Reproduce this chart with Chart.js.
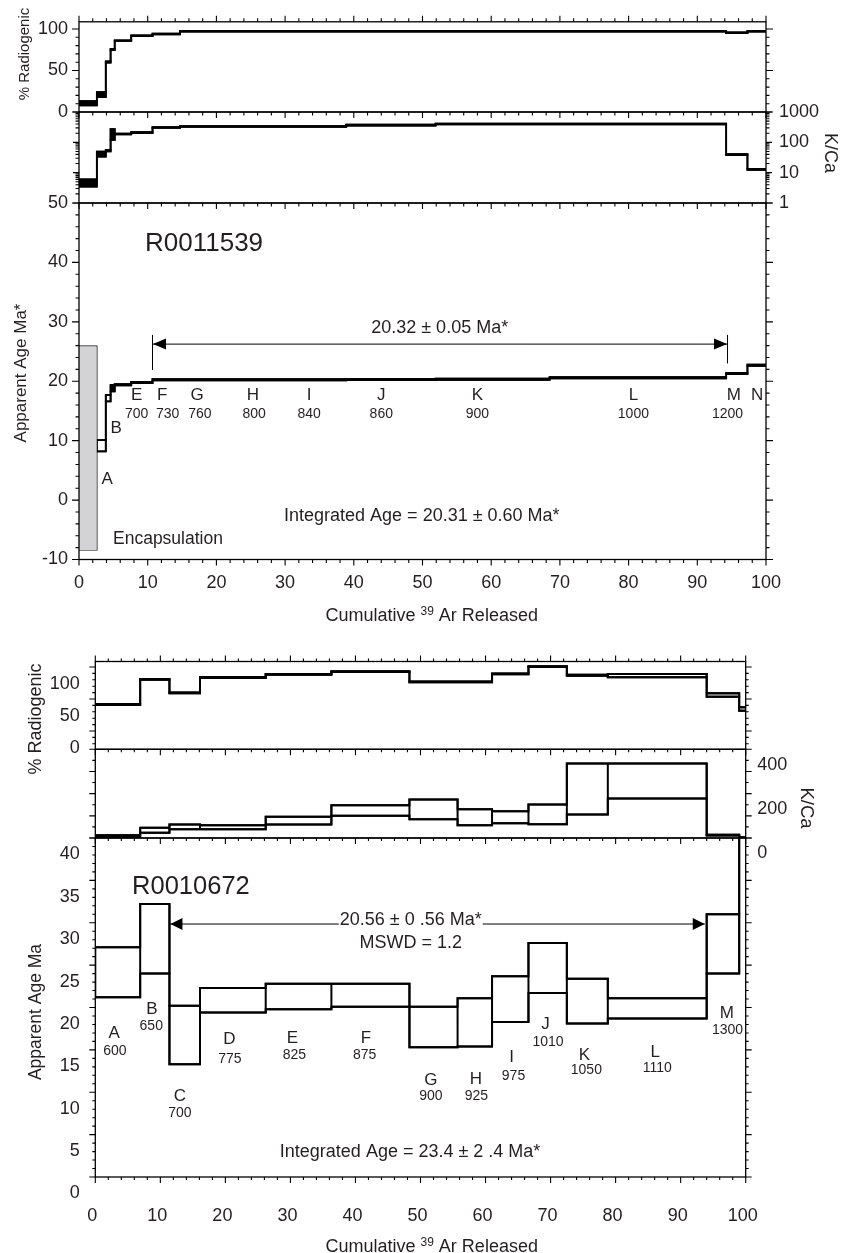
<!DOCTYPE html>
<html>
<head>
<meta charset="utf-8">
<title>Ar-Ar age spectra R0011539 / R0010672</title>
<script src="https://cdn.jsdelivr.net/npm/chart.js@4.4.1/dist/chart.umd.min.js"></script>
<style>
html, body { margin:0; padding:0; background:#fff; }
#fig { position:relative; width:848px; height:1253px; overflow:hidden; background:#fff; }
#fig canvas { position:absolute; left:0; top:0; }
</style>
</head>
<body>
<div id="fig">
<canvas id="topRad" width="848" height="1253"></canvas>
<canvas id="topKca" width="848" height="1253"></canvas>
<canvas id="topAge" width="848" height="1253"></canvas>
<canvas id="botRad" width="848" height="1253"></canvas>
<canvas id="botKca" width="848" height="1253"></canvas>
<canvas id="botAge" width="848" height="1253"></canvas>
</div>
<script>
// ======================= DATA =======================
// Upper spectrum, sample R0011539 (step 0 = encapsulation gas)
const topStepNames = ['Encapsulation','A','B','C','D','E','F','G','H','I','J','K','L','M','N'];
const topCumAr = [0, 2.6, 3.9, 4.6, 5.2, 7.6, 10.7, 14.7, 19.8, 30.9, 38.9, 51.9, 68.5, 94.2, 97.3, 100];
const topRadLo = [8, 18, 59.5, 74.5, 85.6, 91.6, 93.6, 96.9, 96.9, 96.9, 96.9, 96.9, 96.9, 95.0, 96.9];
const topRadHi = [13, 24, 61.0, 76.0, 86.4, 92.4, 94.4, 97.7, 97.7, 97.7, 97.7, 97.7, 97.7, 95.8, 97.7];
const topKcaLo = [3.5, 34, 50, 120, 182, 203, 298, 322, 322, 322, 358, 392, 392, 38, 12.3];
const topKcaHi = [6.0, 49, 56, 270, 194, 216, 316, 342, 342, 342, 380, 416, 416, 41, 13.2];
const topAgeLo = [-8.4, 8.2, 16.6, 18.3, 19.3, 19.7, 20.15, 20.15, 20.17, 20.17, 20.2, 20.22, 20.5, 21.2, 22.6];
const topAgeHi = [25.9, 10.1, 17.7, 19.4, 19.5, 19.9, 20.35, 20.35, 20.37, 20.37, 20.4, 20.42, 20.7, 21.4, 22.8];
const topLabelSteps = ['A','B','E','F','G','H','I','J','K','L','M','N'];
const topLabelTemps = ['','','700','730','760','800','840','860','900','1000','1200',''];

// Lower spectrum, sample R0010672
const botStepNames = ['A','B','C','D','E','F','G','H','I','J','K','L','M','N'];
const botCumAr = [0, 6.9, 11.4, 16.1, 26.2, 36.3, 48.3, 55.7, 61.0, 66.6, 72.5, 78.8, 94.0, 99.0, 100];
const botRadLo = [40.5, 80, 59, 83, 88, 92, 76, 76, 88.5, 100, 86.5, 84, 53.6, 31.7];
const botRadHi = [42.0, 81.2, 60.2, 84.2, 89.2, 93.2, 77.2, 77.2, 89.7, 101.2, 87.7, 89, 58.9, 37.0];
const botKcaLo = [0, 24, 40, 40, 61, 100, 85, 58, 66, 62, 106, 178, 11, 0];
const botKcaHi = [12, 46, 61, 58, 96, 148, 174, 130, 121, 151, 336, 336, 15, 3];
const botAgeLo = [21.2, 24.0, 13.3, 19.4, 19.8, 20.1, 15.3, 15.4, 18.3, 21.7, 18.1, 18.7, 24.0, 48];
const botAgeHi = [27.1, 32.2, 20.2, 22.3, 22.8, 22.8, 20.1, 21.1, 23.7, 27.6, 23.4, 21.1, 31.0, 60];
const botLabelSteps = ['A','B','C','D','E','F','G','H','I','J','K','L','M'];
const botLabelTemps = ['600','650','700','775','825','875','900','925','975','1010','1050','1110','1300'];

// Tick labels
const cumTicks = [0, 10, 20, 30, 40, 50, 60, 70, 80, 90, 100];
const topRadTicks = [0, 50, 100];
const topKcaTicks = [1, 10, 100, 1000];
const topAgeTicks = [-10, 0, 10, 20, 30, 40, 50];
const botRadTicks = [0, 50, 100];
const botKcaTicks = [0, 200, 400];
const botAgeTicks = [0, 5, 10, 15, 20, 25, 30, 35, 40];

// ======================= LAYOUT (positions, not data) =======================
const FONT = "'Liberation Sans', Arial, Helvetica, sans-serif";
const TXT = '#231f20';
const W_AX = 60;
const topLabelPos = [[4.1,3.45],[5.4,12.1],[8.4,17.6],[12.1,17.6],[17.2,17.6],[25.3,17.6],[33.5,17.6],[44,17.6],[58,17.6],[80.7,17.6],[95.3,17.6],[98.7,17.6]];
const topTempPos  = [null,null,[8.4,14.5],[12.9,14.5],[17.6,14.5],[25.5,14.5],[33.5,14.5],[44,14.5],[58,14.5],[80.7,14.5],[94.4,14.5],null];
const botLabelPos = [[2.9,16.95],[8.7,19.8],[13.0,9.56],[20.6,16.2],[30.3,16.4],[41.6,16.4],[51.6,11.45],[58.5,11.5],[64.0,14.1],[69.2,18.05],[75.2,14.4],[86.1,14.7],[97.1,19.3]];
const botTempPos  = [[3.0,14.87],[8.6,17.8],[13.0,7.5],[20.7,13.9],[30.6,14.4],[41.4,14.4],[51.6,9.5],[58.6,9.5],[64.3,11.9],[69.6,15.97],[75.5,12.6],[86.4,12.8],[97.2,17.3]];

Chart.defaults.font.family = FONT;
Chart.defaults.color = TXT;

// ======================= HELPERS =======================
function range(min, max, step) {
  const out = [];
  for (let k = Math.ceil(min / step - 1e-9); k * step <= max + 1e-9; k++) out.push(Math.round(k * step * 1e6) / 1e6);
  return out;
}
function logRange(min, max, majorOnly) {
  const out = [];
  for (let d = Math.floor(Math.log10(min)); Math.pow(10, d) <= max; d++) {
    for (let m = 1; m < 10; m++) {
      const v = m * Math.pow(10, d);
      if (v >= min - 1e-9 && v <= max + 1e-9 && (!majorOnly || m === 1)) out.push(v);
    }
  }
  return out;
}
function stairPts(cum, vals, start) {
  const pts = [];
  for (let i = start; i < vals.length; i++) pts.push({x: cum[i], y: vals[i]});
  pts.push({x: cum[vals.length], y: vals[vals.length - 1]});
  return pts;
}
// lower and upper staircases, optionally filled between
function stairs(cum, lo, hi, start, lw, segFill) {
  const base = {type: 'line', stepped: 'before', pointRadius: 0, borderColor: '#000', borderWidth: lw,
    borderJoinStyle: 'miter', borderCapStyle: 'butt'};
  const upper = Object.assign({}, base, {data: stairPts(cum, hi, start), fill: segFill ? '-1' : false, backgroundColor: '#000'});
  if (segFill) upper.segment = {backgroundColor: c => segFill(c.p0DataIndex + start)};
  return [Object.assign({}, base, {data: stairPts(cum, lo, start), fill: false}), upper];
}
// closed rectangle for every heating step
function boxOutline(cum, lo, hi, start, end, lw) {
  const pts = [];
  for (let i = start; i < end; i++) {
    const x0 = cum[i], x1 = cum[i + 1];
    pts.push({x: x0, y: lo[i]}, {x: x0, y: hi[i]}, {x: x1, y: hi[i]}, {x: x1, y: lo[i]}, {x: x0, y: lo[i]}, {x: x1, y: null});
  }
  return {type: 'line', data: pts, borderColor: '#000', borderWidth: lw, pointRadius: 0, fill: false,
    spanGaps: false, borderJoinStyle: 'miter', borderCapStyle: 'square'};
}
function spectrum(cum, lo, hi, start, lw, segFill) {
  return stairs(cum, lo, hi, start, lw, segFill).concat([boxOutline(cum, lo, hi, start, lo.length, lw)]);
}
function put(ctx, str, x, y, size, opt) {
  opt = opt || {};
  ctx.save();
  ctx.font = size + 'px ' + FONT;
  ctx.fillStyle = TXT;
  ctx.textAlign = opt.align || 'center';
  ctx.textBaseline = 'middle';
  ctx.translate(x, y);
  if (opt.rot) ctx.rotate(opt.rot * Math.PI / 180);
  ctx.fillText(str, 0, 0);
  ctx.restore();
}
function xTitle(ctx, cx, baseline) {
  const a = 'Cumulative ', s = '39', b = ' Ar Released';
  ctx.save();
  ctx.font = '18px ' + FONT; const wa = ctx.measureText(a).width, wb = ctx.measureText(b).width;
  ctx.font = '12px ' + FONT; const ws = ctx.measureText(s).width;
  let x = cx - (wa + ws + wb) / 2;
  ctx.fillStyle = TXT; ctx.textAlign = 'left'; ctx.textBaseline = 'alphabetic';
  ctx.font = '18px ' + FONT; ctx.fillText(a, x, baseline); x += wa;
  ctx.font = '12px ' + FONT; ctx.fillText(s, x, baseline - 5.4); x += ws;
  ctx.font = '18px ' + FONT; ctx.fillText(b, x, baseline);
  ctx.restore();
}
function tri(ctx, xTip, y, dir, L, h) {
  ctx.beginPath();
  ctx.moveTo(xTip, y);
  ctx.lineTo(xTip - dir * L, y - h);
  ctx.lineTo(xTip - dir * L, y + h);
  ctx.closePath();
  ctx.fill();
}

function makePlugin(spec) {
  return {
    id: 'panelDeco',
    afterDatasetsDraw(chart) {
      const ctx = chart.ctx, a = chart.chartArea;
      ctx.save();
      ctx.strokeStyle = '#000';
      ctx.lineWidth = 1.3;
      ctx.strokeRect(a.left, a.top, a.right - a.left, a.bottom - a.top);
      ctx.lineWidth = 1.1;
      for (const t of spec.tickMarks) {
        const sc = chart.scales[t.scale];
        ctx.beginPath();
        const draw = (v, len) => {
          const p = sc.getPixelForValue(v);
          if (t.side === 'top' || t.side === 'bottom') {
            const y0 = t.side === 'top' ? a.top : a.bottom;
            ctx.moveTo(p, y0); ctx.lineTo(p, y0 + t.dir * len);
          } else {
            const x0 = t.side === 'left' ? a.left : a.right;
            ctx.moveTo(x0, p); ctx.lineTo(x0 + t.dir * len, p);
          }
        };
        t.minor.forEach(v => draw(v, t.minorLen));
        t.major.forEach(v => draw(v, t.majorLen));
        ctx.stroke();
      }
      ctx.restore();
    },
    afterDraw(chart) {
      (spec.decor || []).forEach(fn => fn(chart.ctx, chart));
    }
  };
}

function makePanel(id, rect, spec) {
  const hasX = !!spec.xLabels;
  const yPos = spec.yPos;
  const padding = {
    left: rect.l - (yPos === 'left' ? W_AX : 0),
    right: 848 - rect.r - (yPos === 'right' ? W_AX : 0),
    top: rect.t,
    bottom: 1253 - rect.b - (hasX ? spec.xHeight : 0)
  };
  const scales = {
    x: {
      type: 'linear', min: 0, max: 100, bounds: 'data', position: 'bottom', display: hasX,
      grid: {display: false, drawTicks: false}, border: {display: false},
      ticks: {autoSkip: false, maxRotation: 0, minRotation: 0, padding: spec.xPad || 0,
        labelOffset: spec.xLabelOffset || 0, font: {size: 18}, color: TXT, callback: v => String(v)},
      afterBuildTicks: s => { if (hasX) s.ticks = spec.xLabels.map(v => ({value: v})); },
      afterFit: s => { if (hasX) s.height = spec.xHeight; }
    },
    y: {
      type: spec.yType || 'linear', min: spec.yMin, max: spec.yMax, bounds: 'data', position: yPos,
      grid: {display: false, drawTicks: false}, border: {display: false},
      ticks: {autoSkip: false, padding: spec.yPad, labelOffset: spec.yLabelOffset || 0,
        font: {size: 18}, color: TXT, callback: v => String(v)},
      afterBuildTicks: s => { s.ticks = spec.yLabels.map(v => ({value: v})); },
      afterFit: s => { s.width = W_AX; }
    }
  };
  return new Chart(document.getElementById(id), {
    type: 'line',
    data: {datasets: spec.datasets},
    options: {
      responsive: false, maintainAspectRatio: false, animation: false, devicePixelRatio: 1,
      events: [],
      layout: {padding},
      plugins: {legend: {display: false}, tooltip: {enabled: false}, title: {display: false}},
      scales
    },
    plugins: [makePlugin(spec)]
  });
}

// ======================= UPPER FIGURE =======================
const TX = {l: 79, r: 766};
const xMajor = range(0, 100, 10), xMinor = range(0, 100, 2);

makePanel('topRad', {l: TX.l, r: TX.r, t: 19.3, b: 112}, {
  yPos: 'left', yMin: 0, yMax: 108.7, yLabels: topRadTicks, yPad: 11,
  datasets: spectrum(topCumAr, topRadLo, topRadHi, 0, 1.8, () => undefined),
  tickMarks: [
    {scale: 'x', side: 'top', dir: -1, major: xMajor, minor: xMinor, majorLen: 6, minorLen: 3.5},
    {scale: 'y', side: 'left', dir: -1, major: topRadTicks, minor: range(0, 108, 10), majorLen: 7, minorLen: 3.5},
    {scale: 'y', side: 'right', dir: 1, major: topRadTicks, minor: range(0, 108, 10), majorLen: 7, minorLen: 3.5}
  ]
});

makePanel('topKca', {l: TX.l, r: TX.r, t: 112, b: 203}, {
  yPos: 'right', yType: 'logarithmic', yMin: 1, yMax: 1000, yLabels: topKcaTicks, yPad: 13,
  datasets: spectrum(topCumAr, topKcaLo, topKcaHi, 0, 1.8, () => undefined),
  tickMarks: [
    {scale: 'x', side: 'top', dir: 1, major: xMajor, minor: xMinor, majorLen: 6, minorLen: 3.5},
    {scale: 'y', side: 'left', dir: -1, major: logRange(1, 1000, true), minor: logRange(1, 1000), majorLen: 6, minorLen: 3.5},
    {scale: 'y', side: 'right', dir: 1, major: logRange(1, 1000, true), minor: logRange(1, 1000), majorLen: 6, minorLen: 3.5}
  ],
  decor: [ctx => put(ctx, 'K/Ca', 830, 153, 18, {rot: 90})]
});

const topAgeSets = [
  // encapsulation step (grey box with outline)
  {type: 'line', data: [{x: topCumAr[0], y: topAgeHi[0]}, {x: topCumAr[1], y: topAgeHi[0]}],
   borderColor: 'rgba(0,0,0,0)', borderWidth: 1, pointRadius: 0, fill: {value: topAgeLo[0]}, backgroundColor: '#d3d3d5'},
  boxOutline(topCumAr, topAgeLo, topAgeHi, 0, 1, 1.2)
].concat(spectrum(topCumAr, topAgeLo, topAgeHi, 1, 1.8, i => (i <= 2 ? 'rgba(0,0,0,0)' : undefined)));

makePanel('topAge', {l: TX.l, r: TX.r, t: 203, b: 559.5}, {
  yPos: 'left', yMin: -10, yMax: 50, yLabels: topAgeTicks, yPad: 11,
  xLabels: cumTicks, xHeight: 45, xPad: 12.7,
  datasets: topAgeSets,
  tickMarks: [
    {scale: 'x', side: 'top', dir: 1, major: xMajor, minor: xMinor, majorLen: 6, minorLen: 3.5},
    {scale: 'x', side: 'bottom', dir: 1, major: xMajor, minor: xMinor, majorLen: 6, minorLen: 3.5},
    {scale: 'y', side: 'left', dir: -1, major: range(-10, 50, 10), minor: range(-10, 50, 2), majorLen: 7, minorLen: 3.5},
    {scale: 'y', side: 'right', dir: 1, major: range(-10, 50, 10), minor: range(-10, 50, 2), majorLen: 7, minorLen: 3.5}
  ],
  decor: [(ctx, ch) => {
    const X = v => ch.scales.x.getPixelForValue(v), Y = v => ch.scales.y.getPixelForValue(v);
    put(ctx, 'R0011539', X(18.2), Y(43.1), 26);
    topLabelSteps.forEach((s, i) => put(ctx, s, X(topLabelPos[i][0]), Y(topLabelPos[i][1]), 17));
    topLabelTemps.forEach((s, i) => { if (s) put(ctx, s, X(topTempPos[i][0]), Y(topTempPos[i][1]), 14); });
    put(ctx, 'Integrated Age = 20.31 \u00B1 0.60 Ma*', X(49.9), Y(-2.6), 18);
    put(ctx, 'Encapsulation', X(12.95), Y(-6.5), 17.5);
    // plateau arrow
    ctx.save();
    ctx.strokeStyle = '#000'; ctx.fillStyle = '#000'; ctx.lineWidth = 1;
    const x1 = X(10.7), x2 = X(94.4), y = Y(26.25);
    ctx.beginPath();
    ctx.moveTo(x1, y); ctx.lineTo(x2, y);
    ctx.moveTo(x1, Y(27.8)); ctx.lineTo(x1, Y(21.9));
    ctx.moveTo(x2, Y(27.8)); ctx.lineTo(x2, Y(23.0));
    ctx.stroke();
    tri(ctx, x1 + 0.5, y, -1, 13, 5.5);
    tri(ctx, x2 - 0.5, y, 1, 13, 5.5);
    ctx.restore();
    put(ctx, '20.32 \u00B1 0.05 Ma*', X(52.5), Y(29.0), 18);
    // axis titles
    put(ctx, '% Radiogenic', 25, 54, 15, {rot: -90});
    put(ctx, 'Apparent Age Ma*', 21, 373, 17, {rot: -90});
    xTitle(ctx, 431.7, 620.5);
  }]
});

// ======================= LOWER FIGURE =======================
const BX = {l: 95.3, r: 745.7};

makePanel('botRad', {l: BX.l, r: BX.r, t: 661.5, b: 749.3}, {
  yPos: 'left', yMin: -28.6, yMax: 108.6, yLabels: botRadTicks, yPad: 15.5, yLabelOffset: 16.8,
  datasets: spectrum(botCumAr, botRadLo, botRadHi, 0, 2, i => (i >= 12 ? '#9b9b9b' : 'rgba(0,0,0,0)')),
  tickMarks: [
    {scale: 'x', side: 'top', dir: -1, major: xMajor, minor: xMinor, majorLen: 6, minorLen: 3},
    {scale: 'y', side: 'left', dir: -1, major: botRadTicks, minor: range(-28, 108, 10), majorLen: 6, minorLen: 3},
    {scale: 'y', side: 'right', dir: 1, major: botRadTicks, minor: range(-28, 108, 10), majorLen: 6, minorLen: 3}
  ]
});

makePanel('botKca', {l: BX.l, r: BX.r, t: 749.3, b: 838}, {
  yPos: 'right', yMin: 0, yMax: 400, yLabels: botKcaTicks, yPad: 11.5, yLabelOffset: 15.5,
  datasets: spectrum(botCumAr, botKcaLo, botKcaHi, 0, 2, i => (i === 0 ? '#000' : 'rgba(0,0,0,0)')),
  tickMarks: [
    {scale: 'x', side: 'top', dir: 1, major: xMajor, minor: xMinor, majorLen: 6, minorLen: 3},
    {scale: 'y', side: 'left', dir: -1, major: range(0, 400, 100), minor: range(0, 400, 50), majorLen: 6, minorLen: 3},
    {scale: 'y', side: 'right', dir: 1, major: range(0, 400, 100), minor: range(0, 400, 50), majorLen: 6, minorLen: 3}
  ],
  decor: [ctx => put(ctx, 'K/Ca', 806, 808, 18.5, {rot: 90})]
});

makePanel('botAge', {l: BX.l, r: BX.r, t: 838, b: 1177}, {
  yPos: 'left', yMin: 0, yMax: 40, yLabels: botAgeTicks, yPad: 15.5, yLabelOffset: 16.5,
  xLabels: cumTicks, xHeight: 70, xPad: 28, xLabelOffset: -3,
  datasets: spectrum(botCumAr, botAgeLo, botAgeHi, 0, 2, null),
  tickMarks: [
    {scale: 'x', side: 'top', dir: 1, major: xMajor, minor: xMinor, majorLen: 6, minorLen: 3},
    {scale: 'x', side: 'bottom', dir: 1, major: xMajor, minor: xMinor, majorLen: 6, minorLen: 3},
    {scale: 'y', side: 'left', dir: -1, major: range(0, 40, 5), minor: range(0, 40, 1), majorLen: 6, minorLen: 3},
    {scale: 'y', side: 'right', dir: 1, major: range(0, 40, 5), minor: range(0, 40, 1), majorLen: 6, minorLen: 3}
  ],
  decor: [(ctx, ch) => {
    const X = v => ch.scales.x.getPixelForValue(v), Y = v => ch.scales.y.getPixelForValue(v);
    put(ctx, 'R0010672', X(14.7), Y(34.25), 25.5);
    botLabelSteps.forEach((s, i) => put(ctx, s, X(botLabelPos[i][0]), Y(botLabelPos[i][1]), 17));
    botLabelTemps.forEach((s, i) => put(ctx, s, X(botTempPos[i][0]), Y(botTempPos[i][1]), 14));
    put(ctx, 'Integrated Age = 23.4 \u00B1 2 .4 Ma*', X(48.4), Y(2.9), 18);
    // plateau arrow interrupted by the label
    const label = '20.56 \u00B1 0 .56 Ma*';
    ctx.save();
    ctx.font = '18px ' + FONT;
    const tw = ctx.measureText(label).width;
    const cx = X(48.5), y = Y(29.85), x1 = X(11.4), x2 = X(93.7);
    ctx.strokeStyle = '#000'; ctx.fillStyle = '#000'; ctx.lineWidth = 1;
    ctx.beginPath();
    ctx.moveTo(x1, y); ctx.lineTo(cx - tw / 2 - 1, y);
    ctx.moveTo(cx + tw / 2 + 1, y); ctx.lineTo(x2, y);
    ctx.stroke();
    tri(ctx, x1 + 1, y, -1, 12, 6);
    tri(ctx, x2, y, 1, 12, 6);
    ctx.restore();
    put(ctx, label, cx, Y(30.3), 18);
    put(ctx, 'MSWD = 1.2', X(48.5), Y(27.6), 18);
    // axis titles
    put(ctx, '% Radiogenic', 36, 719, 18, {rot: -90});
    put(ctx, 'Apparent Age Ma', 36, 1012, 17.5, {rot: -90});
    xTitle(ctx, 431.7, 1251.5);
  }]
});
</script>
</body>
</html>
